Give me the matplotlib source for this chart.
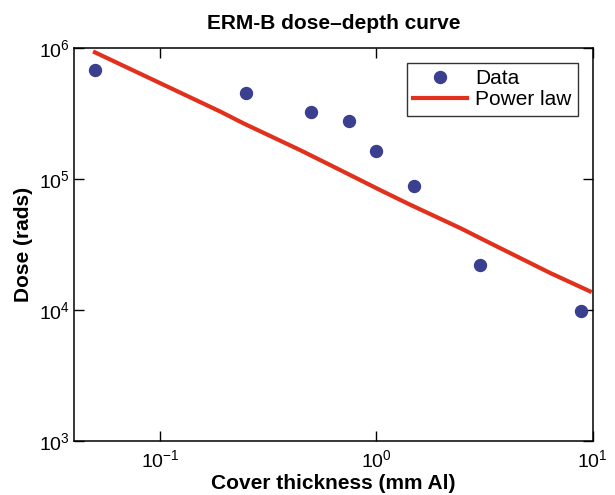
import numpy as np
import matplotlib
matplotlib.use("Agg")
import matplotlib.pyplot as plt

plt.rcParams['font.family'] = ['Liberation Sans', 'DejaVu Sans']
plt.rcParams['mathtext.fontset'] = 'custom'
plt.rcParams['mathtext.rm'] = 'Liberation Sans'
plt.rcParams['mathtext.it'] = 'Liberation Sans:italic'
plt.rcParams['mathtext.bf'] = 'Liberation Sans:bold'

# measured dose vs cover thickness
thickness = [0.05, 0.25, 0.5, 0.75, 1.0, 1.5, 3.0, 8.8]
dose = [6.8e5, 4.56e5, 3.27e5, 2.77e5, 1.64e5, 8.85e4, 2.21e4, 9.8e3]

# power law fit
fit_x = [0.05, 0.19, 0.243, 0.445, 0.681, 1.04, 1.44, 2.45, 3.37, 6.39, 9.7]
fit_y = [9.27e5, 3.27e5, 2.66e5, 1.66e5, 1.17e5, 8.24e4, 6.34e4, 4.21e4, 3.23e4, 1.91e4, 1.39e4]

fig = plt.figure(figsize=(6.15, 4.95), dpi=100)
ax = fig.add_axes([0.1203, 0.1091, 0.8434, 0.7939])

ax.plot(thickness, dose, 'o', color='#3a3f8f', markersize=8.6, label='Data')
ax.plot(fit_x, fit_y, '-', color='#e1301c', linewidth=3, label='Power law')

ax.set_xscale('log')
ax.set_yscale('log')
ax.set_xlim(0.04, 10)
ax.set_ylim(1e3, 1e6)
ax.minorticks_off()

ax.tick_params(which='both', direction='in', top=True, right=True,
               length=7, width=1, labelsize=14)
ax.tick_params(axis='x', pad=6)
ax.tick_params(axis='y', pad=3)
for s in ax.spines.values():
    s.set_linewidth(1.1)

ax.set_title('ERM-B dose\u2013depth curve', fontsize=15, fontweight='bold', pad=14)
ax.set_xlabel('Cover thickness (mm Al)', fontsize=15, fontweight='bold', labelpad=2)
ax.set_ylabel('Dose (rads)', fontsize=15, fontweight='bold', labelpad=4)

leg = ax.legend(loc='upper right', fontsize=15, frameon=True, fancybox=False,
                edgecolor='black', borderpad=0.3, handlelength=2.6,
                handletextpad=0.4, labelspacing=0.12, borderaxespad=0.7,
                numpoints=1)
leg.get_frame().set_linewidth(1.0)

fig.savefig('out.png', dpi=100)
